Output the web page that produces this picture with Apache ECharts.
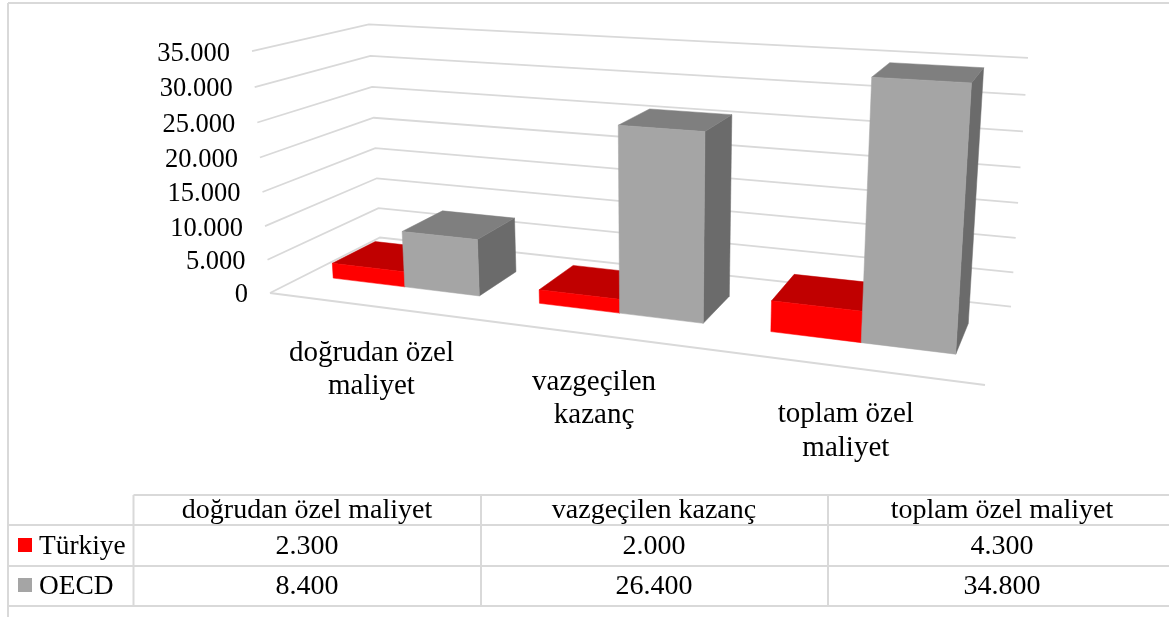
<!DOCTYPE html>
<html>
<head>
<meta charset="utf-8">
<style>
  html, body { margin: 0; padding: 0; background: #fff; }
  #chart { width: 1169px; height: 617px; }
</style>
<script src="https://cdn.jsdelivr.net/npm/echarts@6/dist/echarts.min.js"></script>
</head>
<body>
<div id="chart"></div>
<script>
const categories = ['doğrudan özel maliyet', 'vazgeçilen kazanç', 'toplam özel maliyet']
const seriesNames = ['Türkiye', 'OECD']
const turkiye = [2300, 2000, 4300]
const oecd = [8400, 26400, 34800]
const yTicks = [0, 5000, 10000, 15000, 20000, 25000, 30000, 35000]

const FONT = '"Liberation Serif", "Times New Roman", serif'
const LINE = '#d9d9d9'
const GRID_LINE = '#d9d9d9'
const faces = [
  { front: '#ff0000', top: '#c00000', side: '#a80000' },
  { front: '#a5a5a5', top: '#7f7f7f', side: '#6b6b6b' },
]

// flat plot rectangle: the axes scale into this, then it gets projected
const plot = { left: 270, top: 51, width: 715, height: 242 }
// floor of the 3D box as drawn, order: front-left, front-right, back-right, back-left
const floorQuad = [[270, 293], [985, 385], [1011, 306.6], [380, 237.5]]
// verticals meet far below the picture
const vanish = [657, 5499]
const rise = -0.0444
const barW = 0.12
const depthFrom = 0.3
const depthTo = 0.7

function quadMap(q) {
  const [[x0, y0], [x1, y1], [x2, y2], [x3, y3]] = q
  const dx1 = x1 - x2, dx2 = x3 - x2, sx = x0 - x1 + x2 - x3
  const dy1 = y1 - y2, dy2 = y3 - y2, sy = y0 - y1 + y2 - y3
  const den = dx1 * dy2 - dx2 * dy1
  const g = (sx * dy2 - dx2 * sy) / den
  const h = (dx1 * sy - sx * dy1) / den
  const a = x1 - x0 + g * x1, b = x3 - x0 + h * x3
  const d = y1 - y0 + g * y1, e = y3 - y0 + h * y3
  return (u, w) => [a * u + b * w + x0, d * u + e * w + y0, g * u + h * w + 1]
}

const floorAt = quadMap(floorQuad)

// u, v come out of the axis scales via api.coord, w is the depth
function project(px, py, w) {
  const u = (px - plot.left) / plot.width
  const v = (plot.top + plot.height - py) / plot.height
  const [X, Y, k] = floorAt(u, w)
  const t = v * rise
  return [(X + t * vanish[0]) / (k + t), (Y + t * vanish[1]) / (k + t)]
}

function fmt(value) {
  return String(value).replace(/\B(?=(\d{3})+$)/g, '.')
}

function poly(points, fill) {
  return {
    type: 'polygon',
    shape: { points },
    style: { fill, stroke: fill, lineWidth: 0.5 },
  }
}

function renderWalls(params, api) {
  const tick = api.value(0)
  const [, py] = api.coord([0, tick])
  const left = plot.left
  const right = plot.left + plot.width
  const points = [project(left, py, 0), project(left, py, 1), project(right, py, 1)]
  const children = [{
    type: 'polyline',
    shape: { points },
    style: { stroke: GRID_LINE, lineWidth: 1.8, fill: 'none' },
  }, {
    type: 'text',
    style: {
      text: fmt(tick),
      x: points[0][0] - 22,
      y: points[0][1] + 2.5,
      align: 'right',
      verticalAlign: 'middle',
      fill: '#000',
      font: '26.5px ' + FONT,
    },
  }]
  if (tick === 0) {
    children.push({
      type: 'line',
      shape: {
        x1: points[0][0], y1: points[0][1],
        x2: project(right, py, 0)[0], y2: project(right, py, 0)[1],
      },
      style: { stroke: GRID_LINE, lineWidth: 1.8 },
    })
  }
  return { type: 'group', children }
}

function renderCategoryLabel(params, api) {
  const index = api.value(0)
  const [px, py] = api.coord([index, 0])
  const p = project(px, py, 0)
  return {
    type: 'text',
    style: {
      text: categories[index].replace(/ (\S+)$/, '\n$1'),
      x: p[0] - 0.5,
      y: p[1] + 64,
      align: 'center',
      verticalAlign: 'middle',
      lineHeight: 33.5,
      fill: '#000',
      font: '29px ' + FONT,
    },
  }
}

function renderBar(slot) {
  return (params, api) => {
    const index = api.value(0)
    const [cx, py0] = api.coord([index, 0])
    const [, py1] = api.coord([index, api.value(1)])
    const x0 = cx + (slot - 1) * barW * plot.width
    const x1 = x0 + barW * plot.width
    const c = faces[slot]
    const fl0 = project(x0, py0, depthFrom), fr0 = project(x1, py0, depthFrom)
    const fl1 = project(x0, py1, depthFrom), fr1 = project(x1, py1, depthFrom)
    const bl1 = project(x0, py1, depthTo), br1 = project(x1, py1, depthTo)
    const br0 = project(x1, py0, depthTo)
    return {
      type: 'group',
      children: [
        poly([fr0, br0, br1, fr1], c.side),
        poly([fl1, fr1, br1, bl1], c.top),
        poly([fl0, fr0, fr1, fl1], c.front),
      ],
    }
  }
}

function tableGraphics() {
  const rowLines = [525, 566, 606]
  const colLines = [133.5, 481, 828]
  const colCentres = [307, 654, 1002]
  const rowCentres = [547, 587]
  const seg = (x1, y1, x2, y2) => ({
    type: 'line',
    shape: { x1, y1, x2, y2 },
    style: { stroke: LINE, lineWidth: 2 },
  })
  const text = (str, x, y, align, size = 28) => ({
    type: 'text',
    style: { text: str, x, y, align, verticalAlign: 'middle', fill: '#000', font: size + 'px ' + FONT },
  })
  const out = [seg(8, 3, 1169, 3), seg(8, 3, 8, 617), seg(133.5, 495, 1169, 495)]
  rowLines.forEach(y => out.push(seg(8, y, 1169, y)))
  colLines.forEach(x => out.push(seg(x, 495, x, 606)))
  categories.forEach((name, i) => out.push(text(name, colCentres[i], 511, 'center')))
  ;[turkiye, oecd].forEach((values, row) => {
    out.push({
      type: 'rect',
      shape: { x: 18, y: rowCentres[row] - 9, width: 14, height: 14 },
      style: { fill: faces[row].front },
    })
    out.push(text(seriesNames[row], 39, rowCentres[row], 'left', 27.4))
    values.forEach((value, i) => out.push(text(fmt(value), colCentres[i], rowCentres[row], 'center')))
  })
  return out
}

const chart = echarts.init(document.getElementById('chart'))
chart.setOption({
  animation: false,
  backgroundColor: '#fff',
  grid: { left: plot.left, top: plot.top, width: plot.width, height: plot.height },
  xAxis: { type: 'category', data: categories, show: false },
  yAxis: { type: 'value', min: 0, max: 35000, interval: 5000, show: false },
  graphic: tableGraphics(),
  series: [
    { type: 'custom', name: 'walls', renderItem: renderWalls, data: yTicks.map(t => [t]), encode: { y: 0 }, silent: true },
    { type: 'custom', name: 'labels', renderItem: renderCategoryLabel, data: categories.map((c, i) => [i]), encode: { x: 0 }, silent: true },
    { type: 'custom', name: seriesNames[0], renderItem: renderBar(0), data: turkiye.map((v, i) => [i, v]), encode: { x: 0, y: 1 } },
    { type: 'custom', name: seriesNames[1], renderItem: renderBar(1), data: oecd.map((v, i) => [i, v]), encode: { x: 0, y: 1 } },
  ],
})
</script>
</body>
</html>
